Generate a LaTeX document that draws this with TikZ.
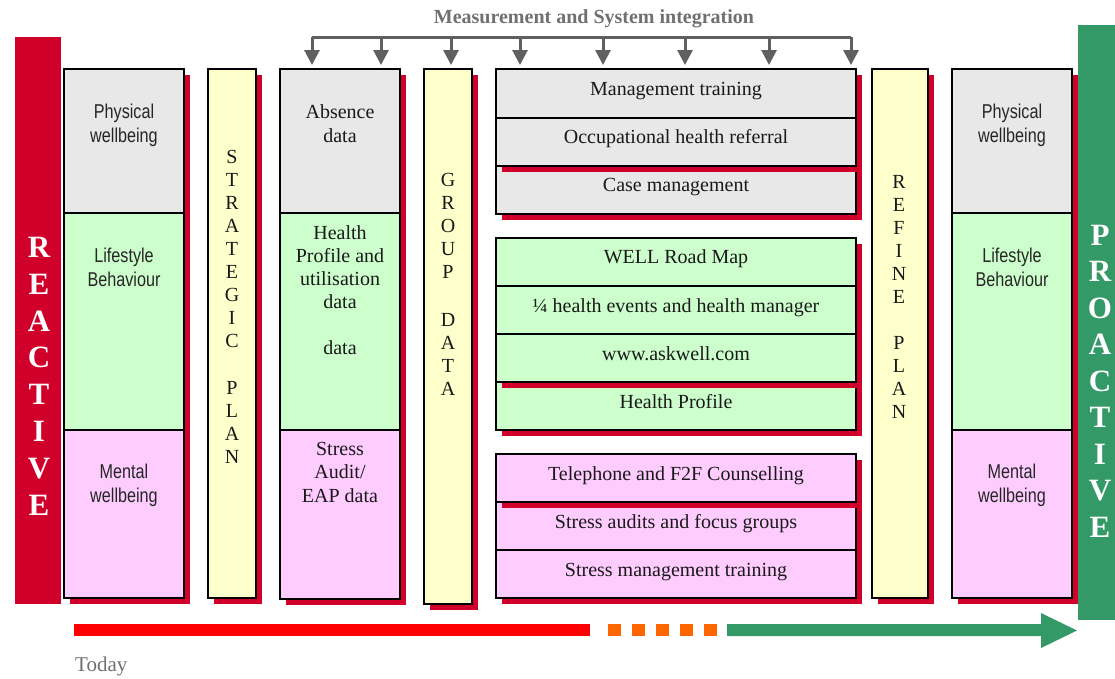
\documentclass[tikz,border=0pt]{standalone}
\usepackage{fontspec}
\setmainfont{Liberation Serif}
\newfontfamily\narrowsans[FakeStretch=0.81]{Liberation Sans}
\usetikzlibrary{arrows.meta}
\definecolor{shred}{HTML}{D0002A}
\definecolor{cellgray}{HTML}{E8E8E8}
\definecolor{cellgreen}{HTML}{CCFFCC}
\definecolor{cellpink}{HTML}{FFCCFF}
\definecolor{cellyellow}{HTML}{FFFFCC}
\definecolor{progreen}{HTML}{339966}
\definecolor{arrgray}{HTML}{606060}
\definecolor{txtgray}{HTML}{707070}
\definecolor{barred}{HTML}{FF0000}
\definecolor{barorange}{HTML}{FF6600}
\newcommand\dropbox[5]{\fill[shred] (#1+6,#2+6) rectangle (#3+6,#4+6); \draw[cellline,fill=#5] (#1,#2) rectangle (#3,#4);}
\newcommand\plainbox[5]{\draw[cellline,fill=#5] (#1,#2) rectangle (#3,#4);}
\newcommand\dropshade[4]{\fill[shred] (#1+6,#2+6) rectangle (#3+6,#4+6);}
\begin{document}
\begin{tikzpicture}[x=1pt,y=-1pt,
  cellline/.style={draw=black,line width=2pt},
  sert/.style={font=\fontsize{20}{24}\selectfont,anchor=base,inner sep=0pt,text=black!90},
  sant/.style={font=\narrowsans\fontsize{20}{24}\selectfont,anchor=base,inner sep=0pt,text=black!85},
  vlet/.style={font=\fontsize{20}{24}\selectfont,inner sep=0pt,text=black!90},
  biglet/.style={font=\bfseries\fontsize{31}{36}\selectfont,inner sep=0pt,text=white},
  garrow/.style={draw=arrgray,line width=3pt},
  gtip/.style={-{Triangle[length=15pt,width=15pt]}}
]
\useasboundingbox (0,0) rectangle (1115,678);

% side bars
\fill[shred] (15,37) rectangle (61,604);
\foreach \c [count=\i] in {R,E,A,C,T,I,V,E}
  \node[biglet] (re\i) at (39,{247+36.9*(\i-1)}) {\c};

% column 1
\dropshade{64}{69}{184}{598}
\plainbox{64}{69}{184}{213}{cellgray}
\plainbox{64}{213}{184}{430}{cellgreen}
\plainbox{64}{430}{184}{598}{cellpink}
\node[sant] (c1a) at (124,118) {Physical};
\node[sant] (c1b) at (124,142) {wellbeing};
\node[sant] (c1c) at (124,262) {Lifestyle};
\node[sant] (c1d) at (124,286) {Behaviour};
\node[sant] (c1e) at (124,478) {Mental};
\node[sant] (c1f) at (124,502) {wellbeing};

% strategic plan
\dropbox{208}{69}{256}{598}{cellyellow}
\foreach \c [count=\i] in {S,T,R,A,T,E,G,I,C}
  \node[vlet] (sp\i) at (232,{157+23*(\i-1)}) {\c};
\foreach \c [count=\i] in {P,L,A,N}
  \node[vlet] (spp\i) at (232,{388+23*(\i-1)}) {\c};

% column 3
\dropshade{280}{69}{400}{599}
\plainbox{280}{69}{400}{213}{cellgray}
\plainbox{280}{213}{400}{430}{cellgreen}
\plainbox{280}{430}{400}{599}{cellpink}
\node[sert] (c3a) at (340,118) {Absence};
\node[sert] (c3b) at (340,142) {data};
\node[sert] (c3c) at (340,239) {Health};
\node[sert] (c3d) at (340,262) {Profile and};
\node[sert] (c3e) at (340,285) {utilisation};
\node[sert] (c3f) at (340,308) {data};
\node[sert] (c3g) at (340,354) {data};
\node[sert] (c3h) at (340,455) {Stress};
\node[sert] (c3i) at (340,478) {Audit/};
\node[sert] (c3j) at (340,502) {EAP data};

% group data
\dropbox{424}{69}{472}{604}{cellyellow}
\foreach \c [count=\i] in {G,R,O,U,P}
  \node[vlet] (gd\i) at (448,{180+23*(\i-1)}) {\c};
\foreach \c [count=\i] in {D,A,T,A}
  \node[vlet] (gdd\i) at (448,{320+23*(\i-1)}) {\c};

% gray stack
\dropbox{496}{166}{856}{214}{cellgray}
\dropshade{496}{69}{856}{166}
\plainbox{496}{69}{856}{118}{cellgray}
\plainbox{496}{118}{856}{166}{cellgray}
\node[sert] (m1) at (676,95) {Management training};
\node[sert] (m2) at (676,143) {Occupational health referral};
\node[sert] (m3) at (676,191) {Case management};

% green stack
\dropbox{496}{382}{856}{430}{cellgreen}
\dropshade{496}{238}{856}{382}
\plainbox{496}{238}{856}{286}{cellgreen}
\plainbox{496}{286}{856}{334}{cellgreen}
\plainbox{496}{334}{856}{382}{cellgreen}
\node[sert] (g1) at (676,263) {WELL Road Map};
\node[sert] (g2) at (676,312) {¼ health events and health manager};
\node[sert] (g3) at (676,360) {www.askwell.com};
\node[sert] (g4) at (676,408) {Health Profile};

% pink stack
\dropshade{496}{502}{856}{598}
\plainbox{496}{502}{856}{550}{cellpink}
\plainbox{496}{550}{856}{598}{cellpink}
\dropbox{496}{454}{856}{502}{cellpink}
\node[sert] (p1) at (676,480) {Telephone and F2F Counselling};
\node[sert] (p2) at (676,528) {Stress audits and focus groups};
\node[sert] (p3) at (676,576) {Stress management training};

% refine plan
\dropbox{872}{69}{928}{598}{cellyellow}
\foreach \c [count=\i] in {R,E,F,I,N,E}
  \node[vlet] (rp\i) at (899,{182+23*(\i-1)}) {\c};
\foreach \c [count=\i] in {P,L,A,N}
  \node[vlet] (rpp\i) at (899,{343+23*(\i-1)}) {\c};

% right column
\dropshade{952}{69}{1072}{598}
\plainbox{952}{69}{1072}{213}{cellgray}
\plainbox{952}{213}{1072}{430}{cellgreen}
\plainbox{952}{430}{1072}{598}{cellpink}
\node[sant] (c5a) at (1012,118) {Physical};
\node[sant] (c5b) at (1012,142) {wellbeing};
\node[sant] (c5c) at (1012,262) {Lifestyle};
\node[sant] (c5d) at (1012,286) {Behaviour};
\node[sant] (c5e) at (1012,478) {Mental};
\node[sant] (c5f) at (1012,502) {wellbeing};

\fill[progreen] (1078,25) rectangle (1115,620);
\foreach \c [count=\i] in {P,R,O,A,C,T,I,V,E}
  \node[biglet] (pr\i) at (1100,{235+36.5*(\i-1)}) {\c};

% measurement arrows
\node[font=\bfseries\fontsize{20}{24}\selectfont,text=txtgray,anchor=base,inner sep=0pt] (meas) at (594,23) {Measurement and System integration};
\foreach \x [count=\i] in {312,381,451,520,603,685,769,851}{
  \coordinate (ms\i) at (\x,37);
  \coordinate (mt\i) at (\x,65);
}
\draw[garrow] (ms1) -- (ms8);
\foreach \i in {1,...,8}
  \draw[garrow,gtip] (ms\i) -- (mt\i);

% timeline arrow
\fill[barred] (74,624) rectangle (590,636);
\foreach \i in {0,...,4}
  \fill[barorange] ({608+24*\i},624) rectangle ({621+24*\i},636);
\fill[progreen] (727,624) -- (1041,624) -- (1041,613) -- (1077,630.5) -- (1041,648) -- (1041,636) -- (727,636) -- cycle;
\node[font=\fontsize{21}{24}\selectfont,text=txtgray,anchor=base west,inner sep=0pt] (today) at (75,671) {Today};
\end{tikzpicture}
\end{document}
